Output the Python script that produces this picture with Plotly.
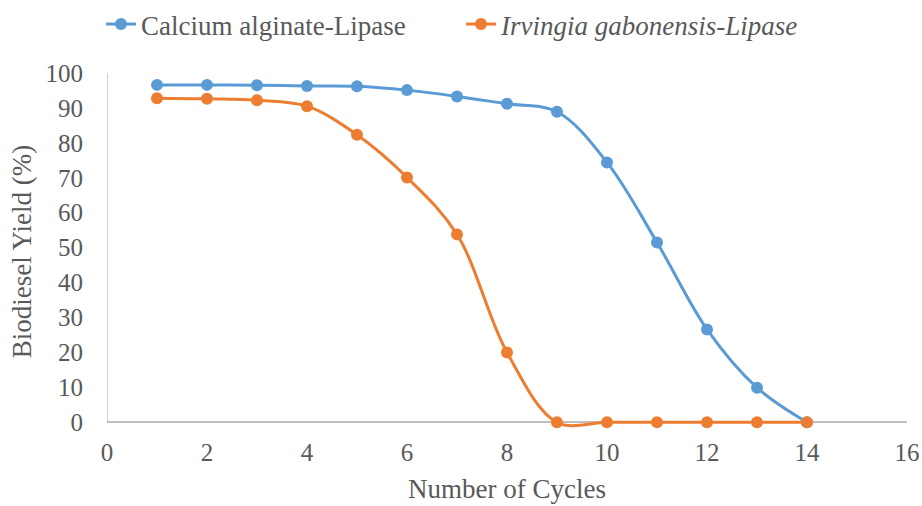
import plotly.graph_objects as go

cycles = [1, 2, 3, 4, 5, 6, 7, 8, 9, 10, 11, 12, 13, 14]
calcium = [96.6, 96.6, 96.5, 96.3, 96.2, 95.1, 93.3, 91.2, 88.9, 74.4, 51.5, 26.6, 9.9, 0]
irvingia = [92.8, 92.6, 92.2, 90.5, 82.3, 70.1, 53.8, 20.0, 0, 0, 0, 0, 0, 0]

FONT = "Liberation Serif, Times New Roman, serif"
TXT = "#595959"
AXC = "#BFBFBF"

fig = go.Figure()
fig.add_trace(go.Scatter(
    x=cycles, y=calcium, name="Calcium alginate-Lipase",
    mode="lines+markers", line=dict(color="#5B9BD5", width=3, shape="spline", smoothing=1.0),
    marker=dict(size=12, color="#5B9BD5"), cliponaxis=False))
fig.add_trace(go.Scatter(
    x=cycles, y=irvingia, name="<i>Irvingia gabonensis-Lipase</i>",
    mode="lines+markers", line=dict(color="#ED7D31", width=3, shape="spline", smoothing=1.0),
    marker=dict(size=12, color="#ED7D31"), cliponaxis=False))

# axis line at the data origin
fig.add_shape(type="line", xref="x", yref="y", x0=0, x1=0, y0=0, y1=100,
              line=dict(color=AXC, width=1.5), layer="below")

fig.update_layout(
    width=922, height=506,
    margin=dict(l=107, r=15, t=73, b=76, autoexpand=False),
    paper_bgcolor="white", plot_bgcolor="white",
    font=dict(family=FONT, size=25, color=TXT),
    showlegend=True,
    legend=dict(orientation="h", x=0.5, xanchor="center", xref="container",
                y=1.0, yanchor="top", yref="container",
                font=dict(family=FONT, size=27, color=TXT),
                traceorder="normal", entrywidth=315, entrywidthmode="pixels"),
    xaxis=dict(range=[0, 16], dtick=2, showgrid=False, zeroline=False, automargin=False,
               showline=False, ticks="", ticklabelstandoff=5,
               tickfont=dict(family=FONT, size=25, color=TXT),
               title=dict(text="Number of Cycles", font=dict(family=FONT, size=27, color=TXT), standoff=14)),
    yaxis=dict(range=[-2.2, 100], tickvals=[0, 10, 20, 30, 40, 50, 60, 70, 80, 90, 100],
               automargin=False,
               showgrid=False, zeroline=True, zerolinecolor=AXC, zerolinewidth=1.5,
               showline=False, ticks="", ticklabelstandoff=23,
               tickfont=dict(family=FONT, size=25, color=TXT),
               title=dict(text="Biodiesel Yield (%)", font=dict(family=FONT, size=27, color=TXT), standoff=6)),
)
fig.write_html("out.html")
